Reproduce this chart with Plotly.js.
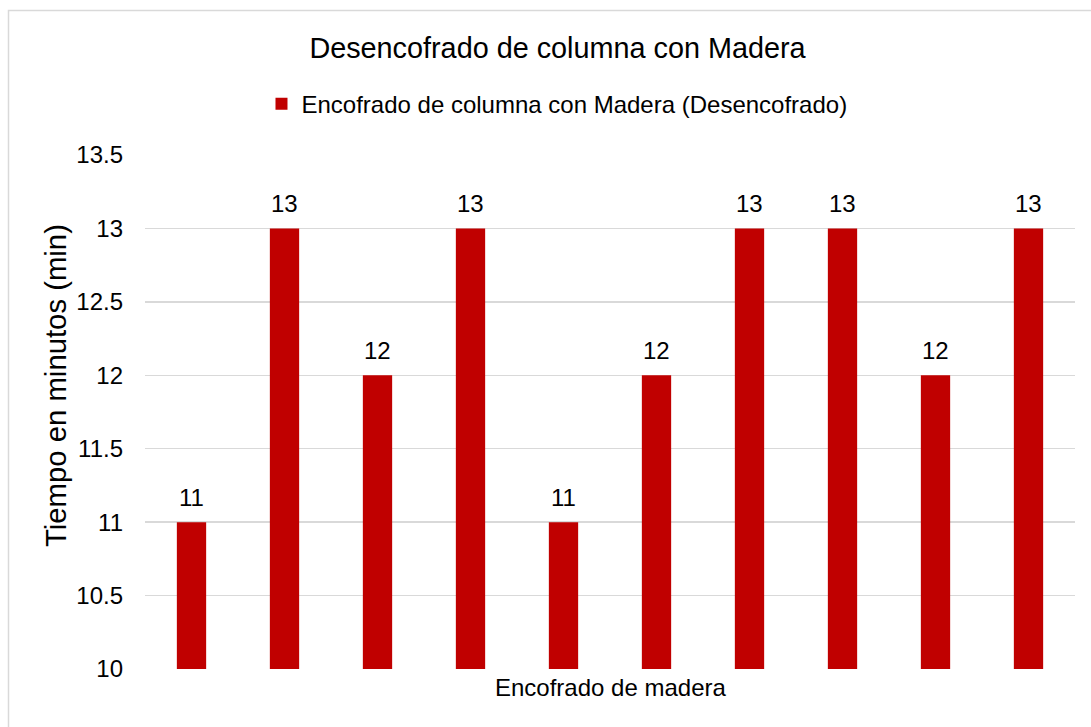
<!DOCTYPE html>
<html>
<head>
<meta charset="utf-8">
<script src="https://cdn.plot.ly/plotly-3.0.1.min.js"></script>
<style>
  html, body { margin: 0; padding: 0; background: #ffffff; }
  #chart { width: 1091px; height: 727px; }
</style>
</head>
<body>
<div id="chart"></div>
<script>
const categorias = [1, 2, 3, 4, 5, 6, 7, 8, 9, 10];
const valores = [11, 13, 12, 13, 11, 12, 13, 13, 12, 13];
const nombreSerie = 'Encofrado de columna con Madera (Desencofrado)';
const tituloGrafico = 'Desencofrado de columna con Madera';
const tituloX = 'Encofrado de madera';
const tituloY = 'Tiempo en minutos (min)';
const ticksY = [10, 10.5, 11, 11.5, 12, 12.5, 13, 13.5];

const FONT = 'Liberation Sans, Arial, sans-serif';
const TXT = '#000000';

const trace = {
  type: 'bar',
  x: categorias,
  y: valores,
  name: nombreSerie,
  marker: { color: '#C00000' },
  showlegend: true,
  hoverinfo: 'y'
};

const etiquetas = categorias.map((c, i) => ({
  x: c, y: valores[i], xref: 'x', yref: 'y',
  text: String(valores[i]),
  showarrow: false,
  yanchor: 'middle',
  yshift: 25,
  font: { family: FONT, size: 24, color: TXT }
}));

const layout = {
  width: 1091,
  height: 727,
  paper_bgcolor: '#ffffff',
  plot_bgcolor: '#ffffff',
  margin: { l: 145, r: 16, t: 155, b: 58, pad: 0 },
  font: { family: FONT, size: 24, color: TXT },
  title: {
    text: tituloGrafico,
    xref: 'container', yref: 'container',
    x: 0.511, xanchor: 'center',
    y: 1 - 48 / 727, yanchor: 'middle',
    font: { family: FONT, size: 28.8, color: TXT }
  },
  bargap: 0.685,
  showlegend: true,
  legend: {
    orientation: 'h',
    x: 0.443, xanchor: 'center',
    y: 1.099, yanchor: 'middle',
    font: { family: FONT, size: 24, color: TXT },
    bgcolor: 'rgba(0,0,0,0)'
  },
  xaxis: {
    type: 'linear',
    range: [0.5, 10.5],
    showticklabels: false,
    ticks: '',
    showgrid: false,
    zeroline: false,
    showline: false,
    title: { text: '' }
  },
  yaxis: {
    range: [10, 13.5],
    tickvals: ticksY,
    ticktext: ticksY.map(v => String(v)),
    ticks: '',
    ticklabelstandoff: 21,
    showgrid: true,
    gridcolor: '#d9d9d9',
    gridwidth: 1.5,
    zeroline: false,
    showline: false,
    tickfont: { family: FONT, size: 24, color: TXT },
    title: { text: '' }
  },
  annotations: etiquetas.concat([
    {
      text: tituloX, xref: 'paper', yref: 'paper',
      x: 0.5, xanchor: 'center',
      y: (669 - 687) / 514, yanchor: 'middle',
      showarrow: false,
      font: { family: FONT, size: 24, color: TXT }
    },
    {
      text: tituloY, xref: 'paper', yref: 'paper',
      x: (55 - 145) / 930, xanchor: 'center',
      y: (669 - 386) / 514, yanchor: 'middle',
      textangle: -90,
      showarrow: false,
      font: { family: FONT, size: 29.3, color: TXT }
    }
  ]),
  shapes: [{
    type: 'rect', xref: 'paper', yref: 'paper',
    x0: (8.5 - 145) / 930, x1: 1.1,
    y0: -0.3, y1: (669 - 10.5) / 514,
    line: { color: '#d9d9d9', width: 1.5 },
    fillcolor: 'rgba(0,0,0,0)',
    layer: 'below'
  }]
};

Plotly.newPlot('chart', [trace], layout, { displayModeBar: false, staticPlot: true });
</script>
</body>
</html>
